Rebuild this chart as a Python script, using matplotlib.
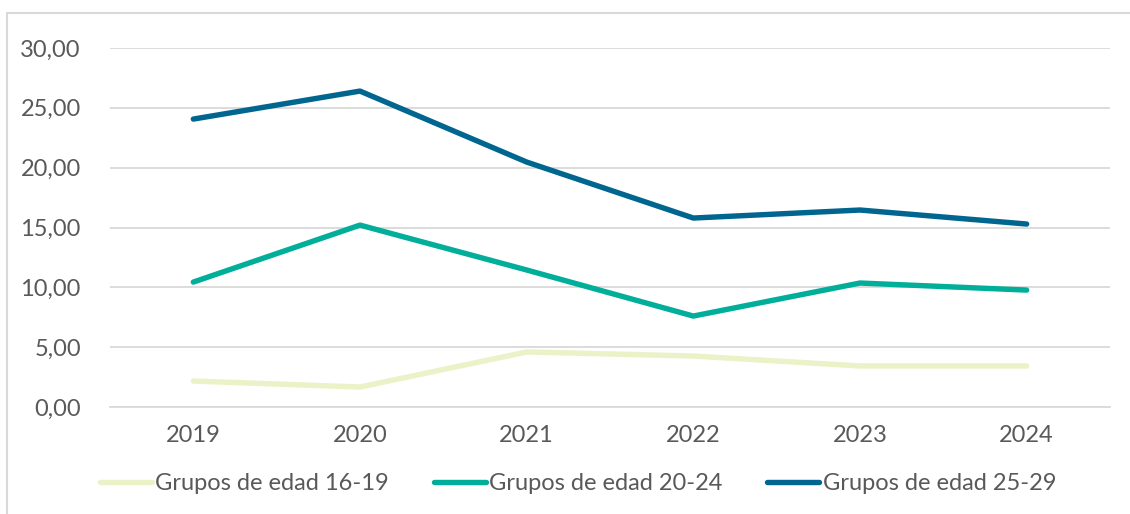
import matplotlib
matplotlib.use("Agg")
from matplotlib import pyplot as plt
from matplotlib.patches import Rectangle
from matplotlib.ticker import FuncFormatter


YEARS = ["2019", "2020", "2021", "2022", "2023", "2024"]
EDAD_16_19 = [2.17, 1.67, 4.60, 4.26, 3.43, 3.43]
EDAD_20_24 = [10.44, 15.20, 11.45, 7.60, 10.36, 9.77]
EDAD_25_29 = [24.06, 26.40, 20.47, 15.79, 16.46, 15.29]
LABELS = ["Grupos de edad 16-19", "Grupos de edad 20-24", "Grupos de edad 25-29"]
COLORS = ["#ebf2c7", "#00ae9a", "#00668f"]

TEXT = "#595959"
GRID = "#d9d9d9"

plt.rcParams['font.family'] = ['Lato', 'DejaVu Sans']

fig = plt.figure(figsize=(11.3, 5.14), dpi=100)
ax = fig.add_axes([110 / 1130, 1 - 407 / 514, 1000 / 1130, 359 / 514])

x = range(len(YEARS))
for vals, lab, col in zip([EDAD_16_19, EDAD_20_24, EDAD_25_29], LABELS, COLORS):
    ax.plot(x, vals, color=col, lw=3.9, label=lab, solid_capstyle='round')

ax.set_xlim(-0.5, len(YEARS) - 0.5)
ax.set_ylim(0, 30)
ax.set_yticks([0, 5, 10, 15, 20, 25, 30])
ax.yaxis.set_major_formatter(FuncFormatter(lambda v, p: f"{v:.2f}".replace(".", ",")))
ax.set_xticks(list(x))
ax.set_xticklabels(YEARS)
ax.grid(axis='y', color=GRID, lw=1.3)
ax.set_axisbelow(True)
for s in ax.spines.values():
    s.set_visible(False)
ax.spines['bottom'].set_visible(True)
ax.spines['bottom'].set_color(GRID)
ax.spines['bottom'].set_linewidth(1.3)
ax.tick_params(axis='both', length=0, labelsize=17, colors=TEXT)
ax.tick_params(axis='y', pad=21)
ax.tick_params(axis='x', pad=13)

# chart frame
fig.patches.append(Rectangle((7 / 1130, -0.1), 1.2, 1 - 13 / 514 + 0.1,
                             transform=fig.transFigure, fill=False,
                             edgecolor=GRID, lw=1.5))

leg = fig.legend(loc='center', bbox_to_anchor=(578 / 1130, 1 - 484 / 514),
                 ncol=3, frameon=False, fontsize=17, handlelength=2.2,
                 handletextpad=0.15, columnspacing=1.9, labelcolor=TEXT)

fig.savefig("out.png", dpi=100)
